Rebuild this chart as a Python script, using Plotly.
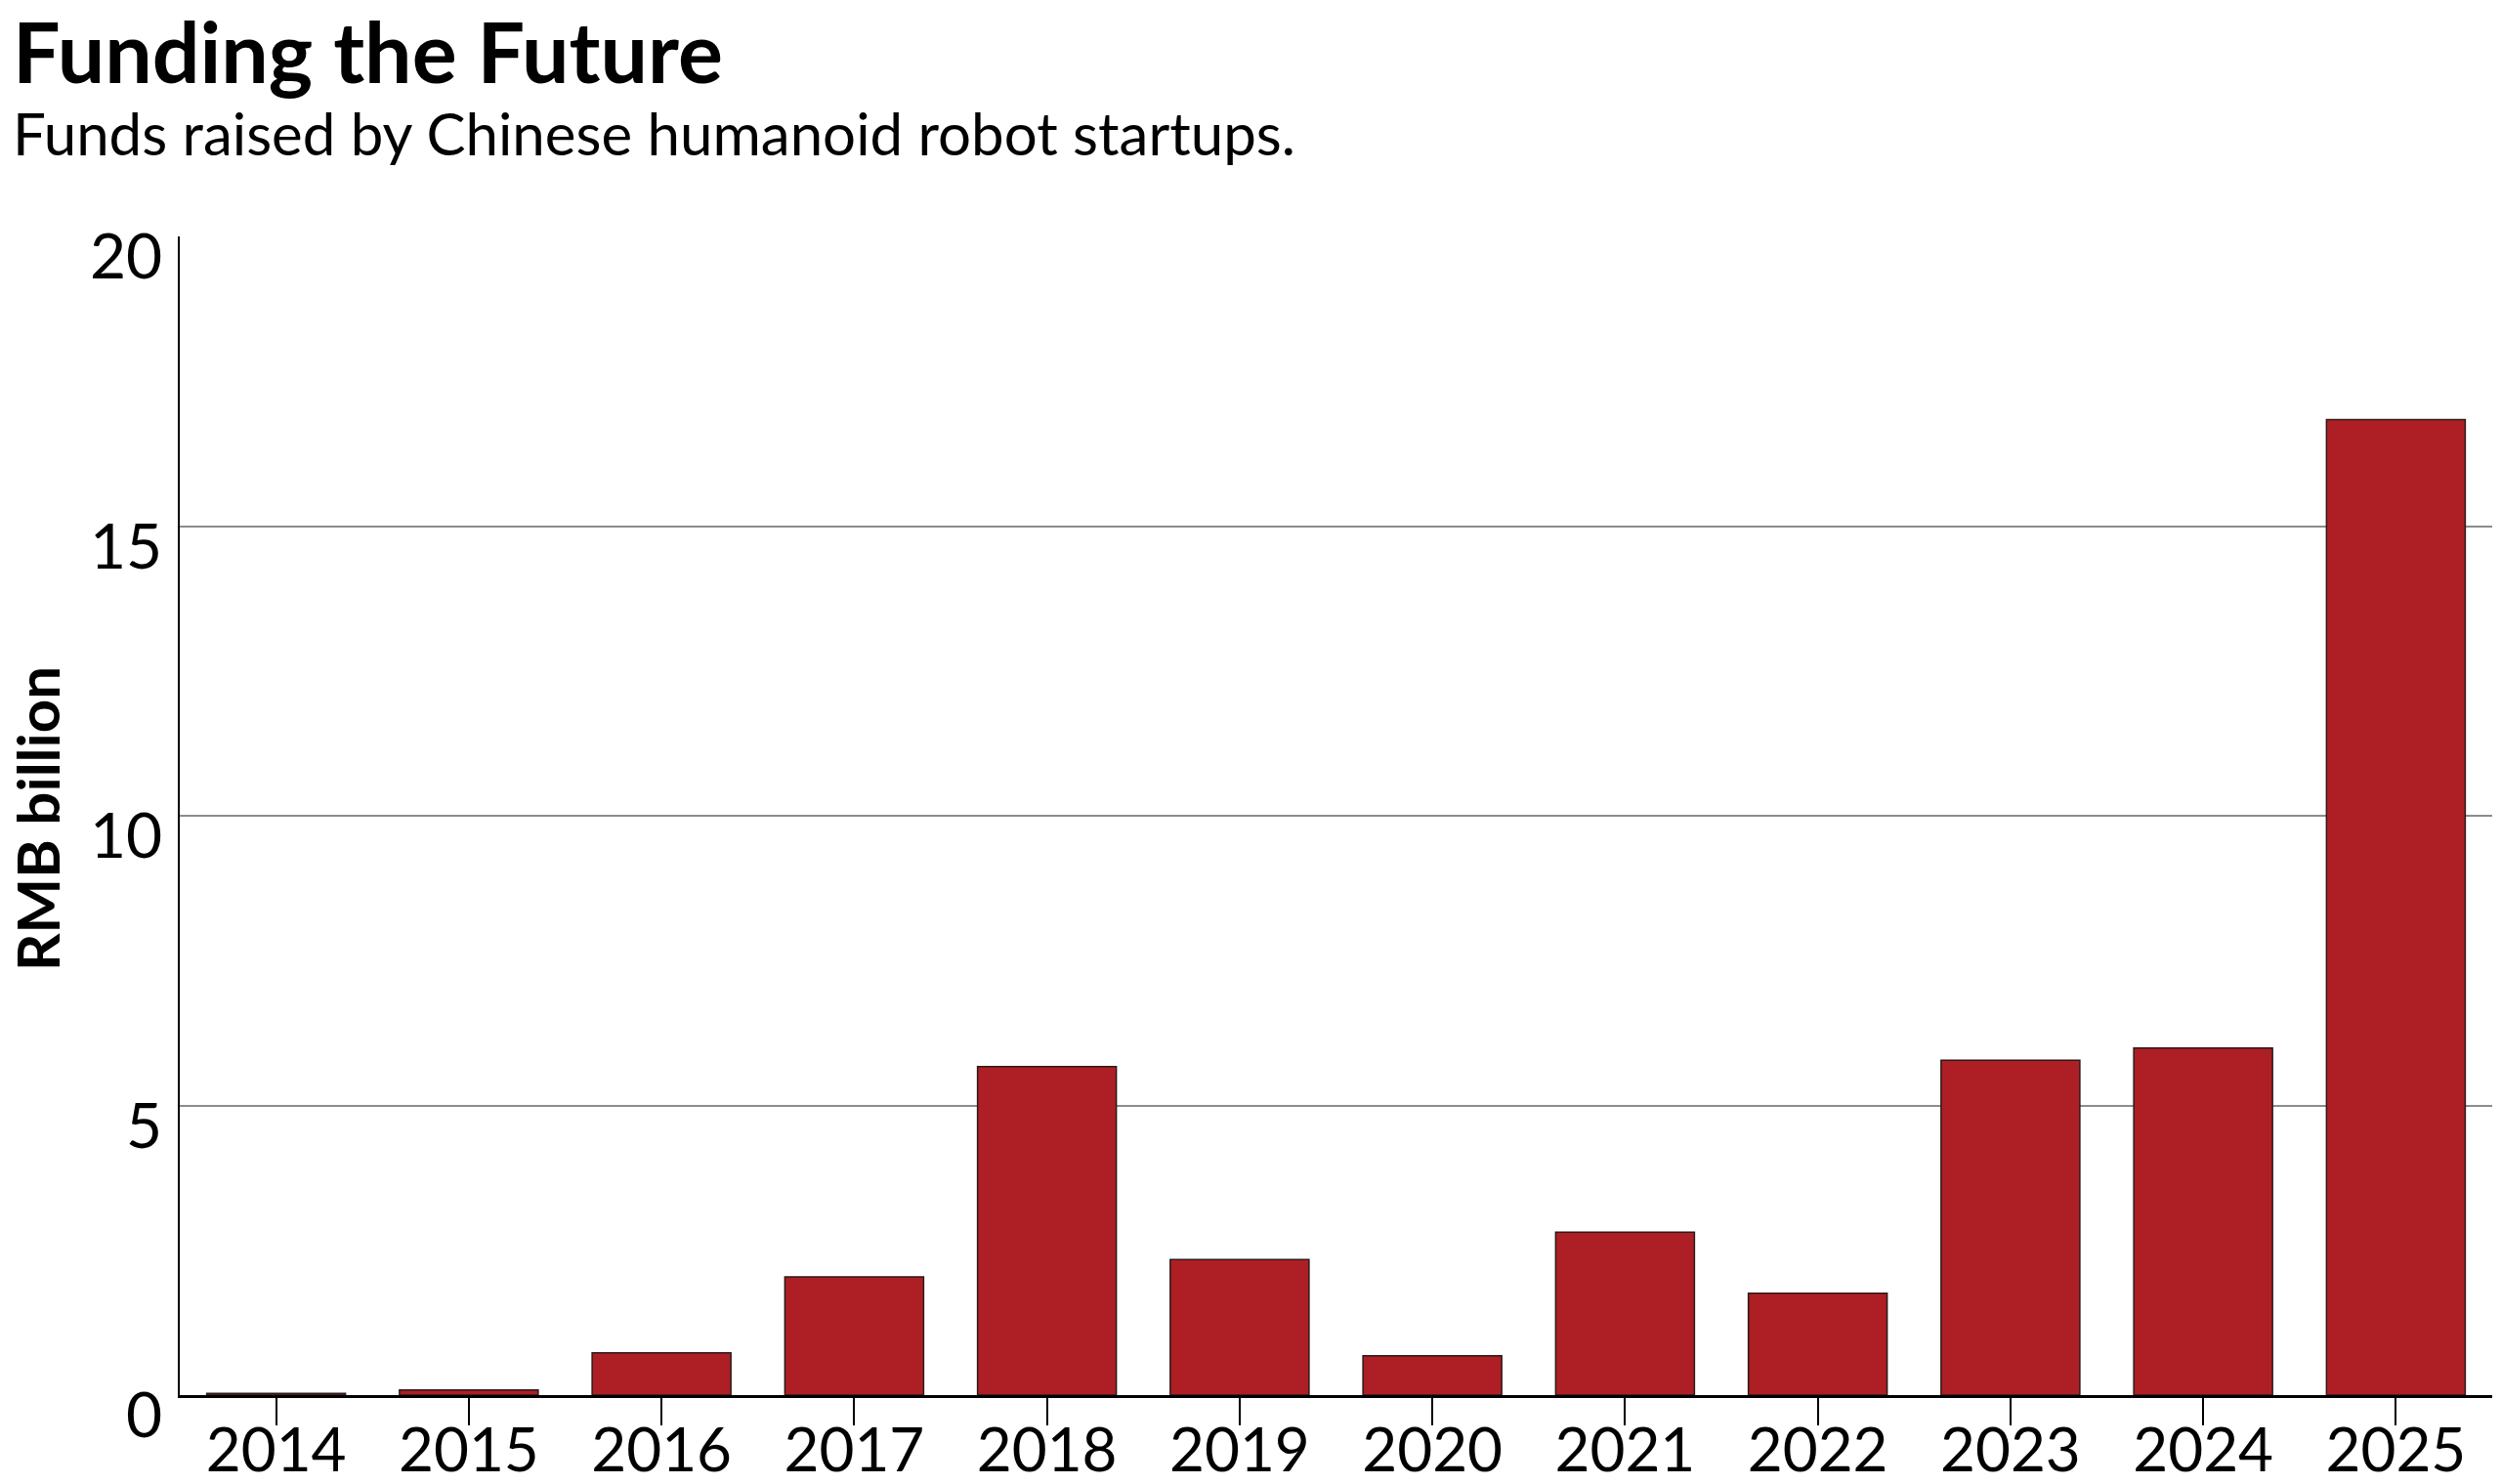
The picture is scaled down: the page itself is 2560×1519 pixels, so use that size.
import plotly.graph_objects as go

# Funds raised by Chinese humanoid robot startups, RMB billion
years = ["2014", "2015", "2016", "2017", "2018", "2019",
         "2020", "2021", "2022", "2023", "2024", "2025"]
funds = [0.03, 0.09, 0.73, 2.04, 5.67, 2.34, 0.68, 2.81, 1.76, 5.78, 5.99, 16.84]
y_ticks = [0, 5, 10, 15, 20]

FONT = "Lato"
W, H = 2560, 1519
L, R, T, B = 184, 9, 242, 91
plot_w = W - L - R
plot_h = H - T - B


def px_x(x):
    return (x - L) / plot_w


def px_y(y):
    return (H - B - y) / plot_h


bars = go.Bar(
    x=years,
    y=funds,
    marker=dict(color="#ae1f25", line=dict(color="#2a1a1a", width=1.5)),
    hoverinfo="x+y",
)

fig = go.Figure(bars)
fig.update_layout(
    width=W,
    height=H,
    margin=dict(l=L, r=R, t=T, b=B, autoexpand=False),
    paper_bgcolor="white",
    plot_bgcolor="white",
    bargap=0.28,
    showlegend=False,
    font=dict(family=FONT, color="black"),
    annotations=[
        dict(text="<b>Funding the Future</b>", xref="paper", yref="paper",
             x=px_x(11), y=px_y(51), xanchor="left", yanchor="middle",
             showarrow=False, font=dict(size=86, family=FONT)),
        dict(text="Funds raised by Chinese humanoid robot startups.",
             xref="paper", yref="paper",
             x=px_x(11), y=px_y(136), xanchor="left", yanchor="middle",
             showarrow=False, font=dict(size=60, family=FONT)),
        dict(text="<b>RMB billion</b>", xref="paper", yref="paper",
             x=px_x(38), y=px_y(838), xanchor="center", yanchor="middle",
             textangle=-90, showarrow=False, font=dict(size=60, family=FONT)),
    ],
)
fig.update_xaxes(
    type="category",
    range=[-0.5, 11.5],
    automargin=False,
    showline=True, linecolor="black", linewidth=3,
    ticks="outside", ticklen=28, tickwidth=2, tickcolor="black",
    ticklabelstandoff=-27,
    tickfont=dict(size=62, family=FONT),
    showgrid=False,
)
fig.update_yaxes(
    range=[0, 20],
    tickvals=y_ticks,
    automargin=False,
    showline=True, linecolor="black", linewidth=2,
    ticks="", ticklabelstandoff=3,
    ticklabelshift=21,
    tickfont=dict(size=64, family=FONT),
    showgrid=True, gridcolor="#8c8c8c", gridwidth=1.5,
    zeroline=False,
)

# page margin off so the figure sits flush in the window
fig.write_html("out.html", config={"displayModeBar": False},
               post_script="document.body.style.margin='0px';")
